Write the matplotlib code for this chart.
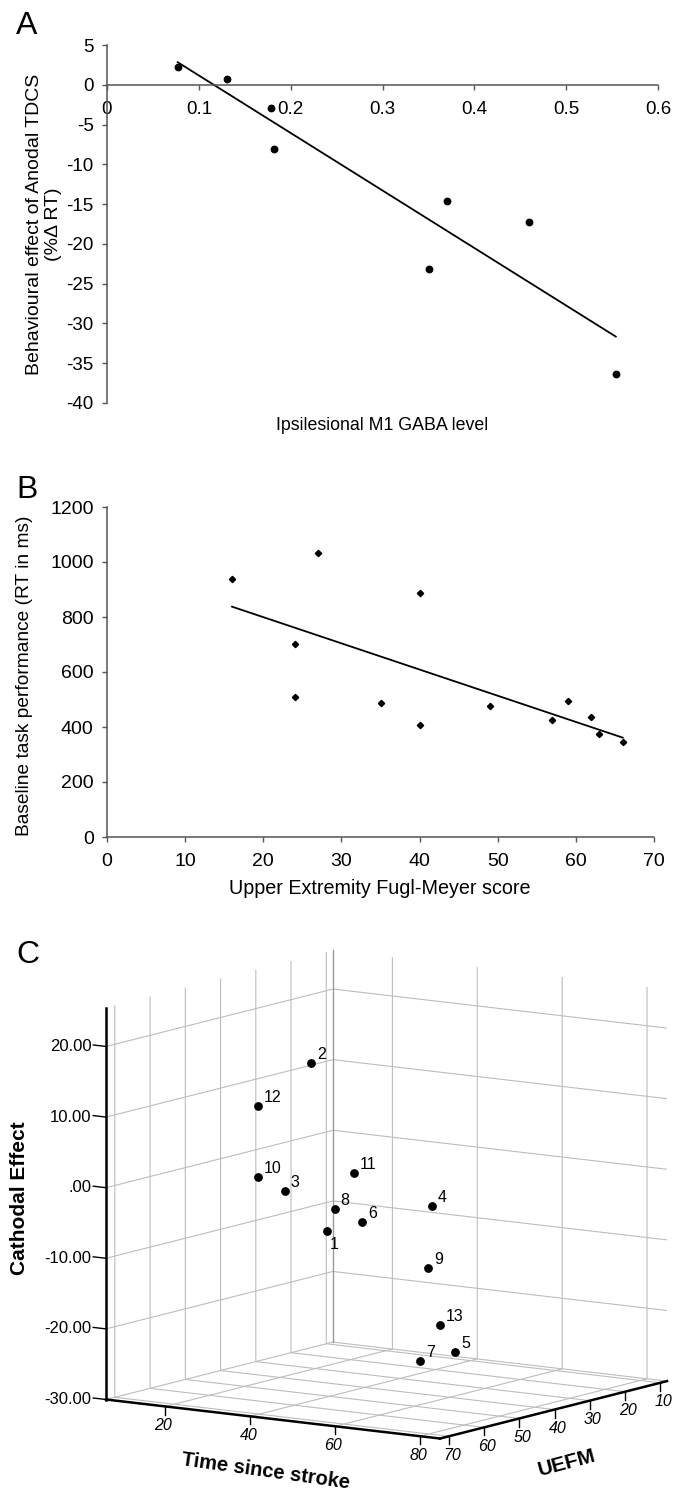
import numpy as np
import matplotlib
matplotlib.use("Agg")
import matplotlib.pyplot as plt
from matplotlib.ticker import NullFormatter
from matplotlib.transforms import offset_copy
from mpl_toolkits.mplot3d import proj3d

plt.rcParams['font.family'] = ['Liberation Sans', 'DejaVu Sans']
plt.rcParams['axes.unicode_minus'] = False

# panel A: ipsilesional GABA vs anodal tDCS effect
gaba_level = [0.077, 0.131, 0.179, 0.182, 0.351, 0.370, 0.460, 0.554]
anodal_effect = [2.2, 0.75, -2.9, -8.1, -23.1, -14.6, -17.2, -36.4]
a_xticks = [0, 0.1, 0.2, 0.3, 0.4, 0.5, 0.6]
a_yticks = [5, 0, -5, -10, -15, -20, -25, -30, -35, -40]

# panel B: UEFM vs baseline RT
uefm_score = [16, 27, 24, 24, 40, 35, 40, 49, 57, 59, 62, 63, 66]
baseline_rt = [939, 1034, 703, 508, 887, 487, 407, 475, 426, 493, 437, 374, 346]
b_xticks = [0, 10, 20, 30, 40, 50, 60, 70]
b_yticks = [0, 200, 400, 600, 800, 1000, 1200]

# panel C: 3D scatter, one point per patient
subject_id = [1, 2, 3, 4, 5, 6, 7, 8, 9, 10, 11, 12, 13]
time_since_stroke = [17.7, 16.6, 28.6, 74.0, 82.9, 26.0, 67.2, 32.9, 70.6, 14.8, 17.4, 10.6, 76.8]
uefm_3d = [24, 27, 49, 62, 66, 24, 57, 40, 59, 40, 16, 35, 63]
cathodal_effect = [-11.4, 12.7, -1.8, 0.9, -18.7, -9.6, -22.2, -5.2, -8.6, -2.0, -4.3, 7.1, -15.7]
time_ticks = [20, 40, 60, 80]
uefm_ticks = [10, 20, 30, 40, 50, 60, 70]
cath_ticks = [-30, -20, -10, 0, 10, 20]
time_lim = (6, 84.7)
uefm_lim = (72.5, 8.1)      # reversed, 70 at the front corner
cath_lim = (-30, 25.5)

W, H = 686, 1491
AXIS_GRAY = '#555555'


def px_rect(left, top, right, bottom):
    return [left / W, 1 - bottom / H, (right - left) / W, (bottom - top) / H]


def fig_text(x, y, s, **kw):
    # x, y in image pixels (y from the top)
    return fig.text(x / W, 1 - y / H, s, **kw)


def style_2d(ax, size):
    for side in ('top', 'right'):
        ax.spines[side].set_visible(False)
    for side in ('left', 'bottom'):
        ax.spines[side].set_color(AXIS_GRAY)
        ax.spines[side].set_linewidth(1.1)
    ax.tick_params(direction='out', length=3.6, width=1, color=AXIS_GRAY,
                   labelsize=size, pad=6)


fig = plt.figure(figsize=(W / 100, H / 100), dpi=100)
fig.patch.set_facecolor('white')

# ---------------- A ----------------
axA = fig.add_axes(px_rect(107, 45, 658, 403))
axA.plot(gaba_level, anodal_effect, 'o', color='black', ms=4.6)
k, b0 = np.polyfit(gaba_level, anodal_effect, 1)
xs = np.array([min(gaba_level), max(gaba_level)])
axA.plot(xs, k * xs + b0, color='black', lw=1.3)
axA.set_xlim(0, 0.6)
axA.set_ylim(-40, 5)
axA.spines['bottom'].set_position(('data', 0))
axA.set_xticks(a_xticks)
axA.set_xticklabels(['0' if t == 0 else f'{t:g}' for t in a_xticks])
axA.set_yticks(a_yticks)
style_2d(axA, 13.5)
axA.tick_params(axis='x', pad=8)

fig_text(16, 33.5, 'A', fontsize=23, ha='left', va='baseline')
fig_text(44, 224, 'Behavioural effect of Anodal TDCS\n(%\u0394 RT)', rotation=90,
         ha='center', va='center', multialignment='center', fontsize=14, linespacing=1.1)
fig_text(382, 425.7, 'Ipsilesional M1 GABA level', ha='center', va='center', fontsize=12.8)

# ---------------- B ----------------
axB = fig.add_axes(px_rect(107, 507, 654, 837))
axB.plot(uefm_score, baseline_rt, 'D', color='black', ms=3.2)
k, b0 = np.polyfit(uefm_score, baseline_rt, 1)
xs = np.array([min(uefm_score), max(uefm_score)])
axB.plot(xs, k * xs + b0, color='black', lw=1.3)
axB.set_xlim(0, 70)
axB.set_ylim(0, 1200)
axB.set_xticks(b_xticks)
axB.set_yticks(b_yticks)
style_2d(axB, 14)
axB.tick_params(axis='x', pad=8)

fig_text(16, 498, 'B', fontsize=23, ha='left', va='baseline')
fig_text(25, 676, 'Baseline task performance (RT in ms)', rotation=90,
         ha='center', va='center', fontsize=13.8)
fig_text(380, 888.5, 'Upper Extremity Fugl-Meyer score', ha='center', va='center', fontsize=14.2)

# ---------------- C ----------------
axC = fig.add_axes([0.0, 0.0, 1.0, 0.45], projection='3d')
axC.set_proj_type('ortho')
axC.view_init(elev=9.9, azim=-55.8)
axC.set_box_aspect((1, 1, 0.985))
axC.patch.set_visible(False)

axC.scatter(time_since_stroke, uefm_3d, cathodal_effect, color='black', s=28,
            depthshade=False, zorder=5)
axC.set_xlim(*time_lim, view_margin=0)
axC.set_ylim(*uefm_lim, view_margin=0)
axC.set_zlim(*cath_lim, view_margin=0)
axC.set_xticks(time_ticks)
axC.set_yticks(uefm_ticks)
axC.set_zticks(cath_ticks)

for axis in (axC.xaxis, axC.yaxis, axC.zaxis):
    axis.set_pane_color((1, 1, 1, 1))
    axis.pane.set_edgecolor((1, 1, 1, 0))
    axis._axinfo['grid'].update(color='#bdbdbd', linewidth=0.8)
    axis._axinfo['tick'].update(inward_factor=0.0, outward_factor=0.0)
    axis.line.set_color('black')
    axis.line.set_linewidth(1.8)
    axis.set_major_formatter(NullFormatter())
    axis.label.set_visible(False)
    axis.offsetText.set_visible(False)
    for tick in axis.get_major_ticks():
        tick.label1.set_visible(False)
        tick.label2.set_visible(False)
# mplot3d puts the z axis on the far right edge here; draw it on the left instead
axC.zaxis.line.set_visible(False)

t_lo, t_hi = time_lim
u_front, u_back = uefm_lim
z_lo, z_hi = cath_lim

axC.plot([t_lo, t_lo], [u_front, u_front], [z_lo, z_hi], color='black', lw=1.8, zorder=6)
# back corner edge
axC.plot([t_lo, t_lo], [u_back, u_back], [z_lo, z_hi], color='#9a9a9a', lw=1.0)

def shifted(dx, dy):
    return offset_copy(axC.transData, fig=fig, x=dx, y=dy, units='dots')

# ticks and tick labels
tick_dz = 1.15
for t in time_ticks:
    axC.plot([t, t], [u_front, u_front], [z_lo, z_lo - tick_dz], color='black', lw=1.0)
    axC.text(t, u_front, z_lo, str(t), ha='center', va='center', rotation=-7,
             style='italic', fontsize=11.5, transform=shifted(-2, -19.5))
for u in uefm_ticks:
    axC.plot([t_hi, t_hi], [u, u], [z_lo, z_lo - tick_dz], color='black', lw=1.0)
    axC.text(t_hi, u, z_lo, str(u), ha='center', va='center', rotation=14,
             style='italic', fontsize=11.5, transform=shifted(3, -19))
for zt in cath_ticks:
    axC.plot([t_lo, t_lo - 3.0], [u_front, u_front], [zt, zt], color='black', lw=1.0)
    lbl = f'{zt:.2f}'
    if lbl.startswith('0'):
        lbl = lbl[1:]
    axC.text(t_lo, u_front, zt, lbl, ha='right', va='center', fontsize=12,
             transform=shifted(-14.5, 0))

# point labels
for sid, t, u, c in zip(subject_id, time_since_stroke, uefm_3d, cathodal_effect):
    if sid == 1:
        axC.text(t, u, c, str(sid), ha='left', va='top', fontsize=11.5,
                 transform=shifted(3, -6))
    else:
        axC.text(t, u, c, str(sid), ha='left', va='baseline', fontsize=11.5,
                 transform=shifted(6, 4))


def fit_3d_box(ax, corner_a, corner_b, target_a, target_b):
    # move/resize the (square) 3D axes so two box corners land on target pixels
    fig.canvas.draw()
    M = ax.M

    def disp(p):
        px, py, _ = proj3d.proj_transform(p[0], p[1], p[2], M)
        return np.asarray(ax.transData.transform((float(px), float(py))))

    da, db = disp(corner_a), disp(corner_b)
    bb = ax.get_position()
    x0, y0, side = bb.x0 * W, bb.y0 * H, bb.width * W
    na = (da - [x0, y0]) / side
    nb = (db - [x0, y0]) / side
    ta = np.array([target_a[0], H - target_a[1]])
    tb = np.array([target_b[0], H - target_b[1]])
    new_side = (tb[0] - ta[0]) / (nb[0] - na[0])
    nx0 = ta[0] - na[0] * new_side
    ny0 = ta[1] - na[1] * new_side
    ax.set_position([nx0 / W, ny0 / H, new_side / W, new_side / H])


for _ in range(2):
    fit_3d_box(axC, (t_lo, u_front, z_lo), (t_hi, u_back, z_lo),
               (106, 1399.5), (667, 1382.4))

fig_text(16, 963, 'C', fontsize=23, ha='left', va='baseline')
fig_text(20, 1198, 'Cathodal Effect', rotation=90, ha='center', va='center',
         fontsize=15, fontweight='bold')
fig_text(266, 1471, 'Time since stroke', rotation=-8, ha='center', va='center',
         fontsize=14.5, fontweight='bold')
fig_text(567, 1463, 'UEFM', rotation=15, ha='center', va='center',
         fontsize=15, fontweight='bold')

fig.savefig('out.png', dpi=100, facecolor='white')
